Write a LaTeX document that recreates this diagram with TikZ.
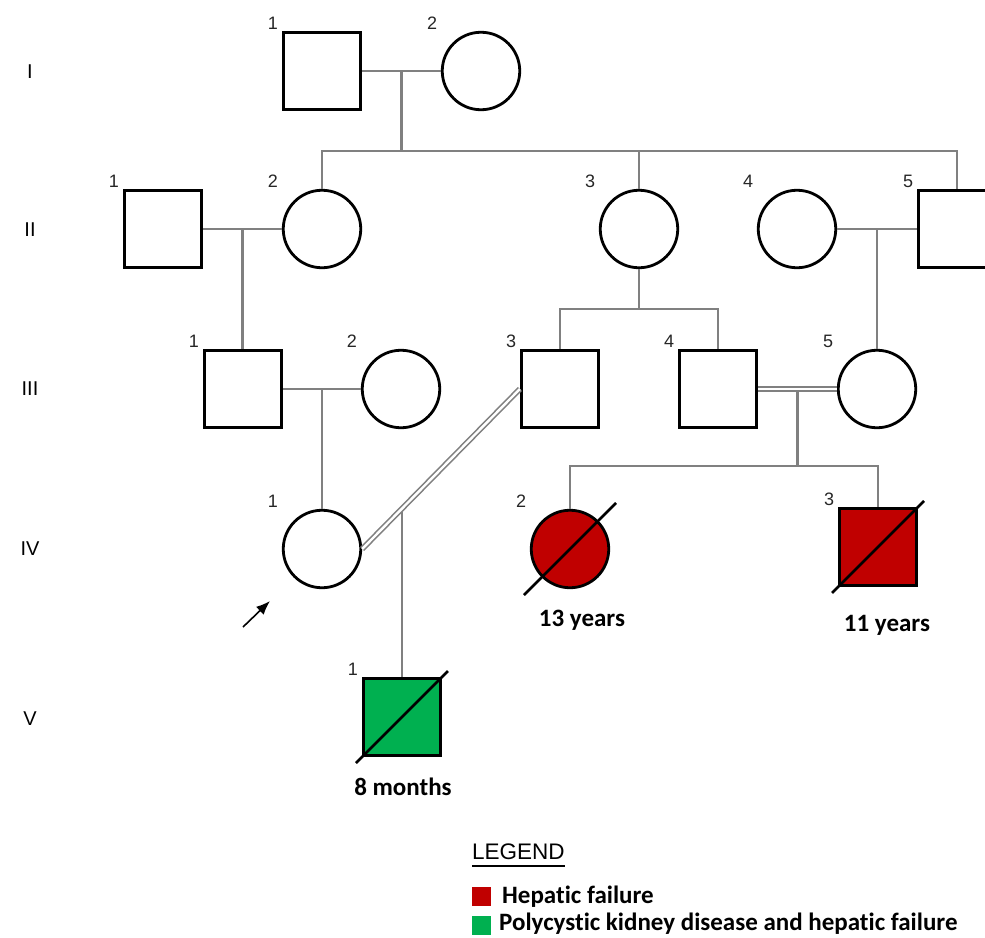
\documentclass[tikz,border=0pt]{standalone}
\usepackage{fontspec}
\setmainfont{Liberation Sans}
\newfontfamily\agefont[Ligatures=NoCommon]{Carlito}
\usetikzlibrary{arrows.meta}

\definecolor{hepred}{HTML}{C00000}
\definecolor{pkdgreen}{HTML}{00B050}
\definecolor{linegray}{HTML}{808080}

\tikzset{
  ind/.style={draw=black, line width=2.8pt, minimum size=77.5pt, inner sep=0pt, fill=white, label={[num]center:#1}},
  male/.style={ind=#1, rectangle},
  female/.style={ind=#1, circle},
  hep/.style={fill=hepred},
  pkd/.style={fill=pkdgreen},
  num/.style={font=\fontsize{18}{18}\selectfont, text=black!85, xshift=-49pt, yshift=48pt},
  rel/.style={draw=linegray, line width=2.3pt},
  cons/.style={draw=linegray, line width=1.6pt, double=white, double distance=2.4pt},
  dec/.style={draw=black, line width=2.6pt},
  gen/.style={font=\fontsize{20}{20}\selectfont},
  age/.style={font=\agefont\bfseries\fontsize{25}{25}\selectfont},
  leg/.style={font=\agefont\bfseries\fontsize{25}{25}\selectfont, anchor=base west, inner sep=0pt},
}

\begin{document}
\begin{tikzpicture}[x=1pt, y=-1pt]
\useasboundingbox (0,0) rectangle (985,937);
\clip (0,0) rectangle (985,937);

\node[male=1] (I1) at (322,71) {};
\node[female=2] (I2) at (481,71) {};
\node[male=1] (II1) at (163,229) {};
\node[female=2] (II2) at (322,229) {};
\node[female=3] (II3) at (639,229) {};
\node[female=4] (II4) at (797,229) {};
\node[male=5] (II5) at (957,229) {};
\node[male=1] (III1) at (243,389) {};
\node[female=2] (III2) at (401,389) {};
\node[male=3] (III3) at (560,389) {};
\node[male=4] (III4) at (718,389) {};
\node[female=5] (III5) at (877,389) {};
\node[female=1] (IV1) at (322,549) {};
\node[female=2, hep] (IV2) at (570,549) {};
\node[male=3, hep] (IV3) at (878,547) {};
\node[male=1, pkd] (V1) at (402,717) {};

\draw[rel] (I1) -- (I2) coordinate[midway] (m1);
\draw[rel] (m1) -- ++(0,80) coordinate (s1);
\draw[rel] (II2.north) |- (s1) -| (II5.north);
\draw[rel] (II3.north) -- (II3.north |- s1);

\draw[rel] (II1) -- (II2) coordinate[midway] (m2);
\draw[rel] (m2) -- (m2 |- III1.north);
\draw[rel] (II4) -- (II5) coordinate[midway] (m3);
\draw[rel] (m3) -- (m3 |- III5.north);
\draw[rel] (II3.south) -- ++(0,40) coordinate (s2);
\draw[rel] (III3.north) |- (s2) -| (III4.north);

\draw[rel] (III1) -- (III2) coordinate[midway] (m4);
\draw[rel] (m4) -- (m4 |- IV1.north);
\path (III4) -- (III5) coordinate[midway] (m5);
\draw[rel] (m5) -- ++(0,77) coordinate (s3);
\draw[rel] (IV2.north) |- (s3) -| (IV3.north);
\draw[cons] (III4) -- (III5);

\path (IV1.east) -- (III3.west) coordinate[pos=0.253] (m6);
\draw[rel] (m6) -- (m6 |- V1.north);
\draw[cons] (IV1.east) -- (III3.west);

\foreach \n in {IV2,IV3,V1}
  \draw[dec] (\n) ++(-46,46) -- ++(92,-92);

\node[age] (a1) at (582,620) {13 years};
\node[age] (a2) at (887,625) {11 years};
\node[age] (a3) at (403,787) {8 months};

\foreach \g/\y in {I/72,II/230,III/389,IV/549,V/719}
  \node[gen] (g\g) at (30,\y) {\g};

\coordinate (pt) at (243,627);
\coordinate (ph) at (270,601);
\draw[-{Latex[length=14pt,width=11pt]}, line width=1.6pt] (pt) -- (ph);

\node[font=\fontsize{22.5}{22.5}\selectfont, anchor=base west, inner sep=0pt] (lgd) at (472,859) {LEGEND};
\draw[line width=2pt] ([yshift=-7pt]lgd.base west) -- ([yshift=-7pt]lgd.base east);
\node[fill=hepred, minimum size=19pt, inner sep=0pt] (kh) at (481.5,896) {};
\node[leg] (th) at (502,903) {Hepatic failure};
\node[fill=pkdgreen, minimum size=19pt, inner sep=0pt] (kp) at (481.5,925) {};
\node[leg] (tp) at (499,930) {Polycystic kidney disease and hepatic failure};
\end{tikzpicture}
\end{document}
